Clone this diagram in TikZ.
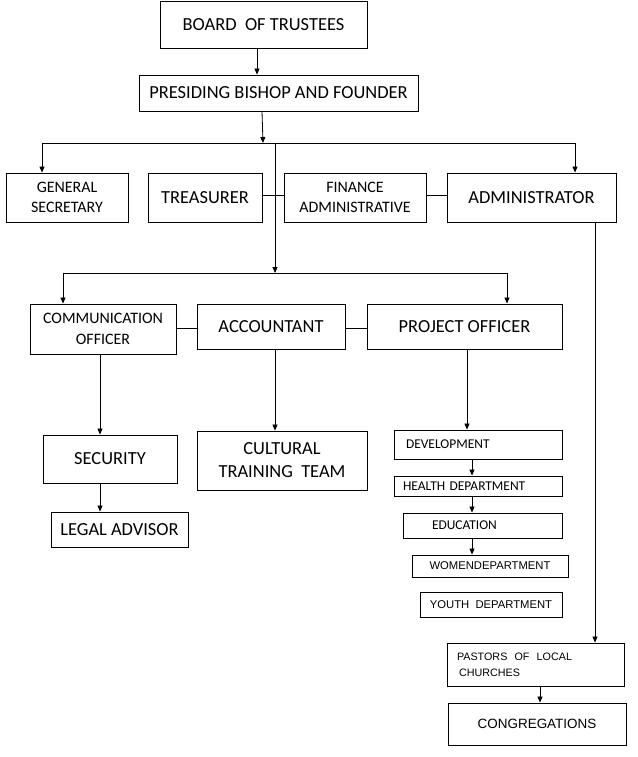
\documentclass[tikz,border=0pt]{standalone}
\usepackage{fontspec}
\setmainfont{Carlito}
\newfontfamily\arialfont{Liberation Sans}
\usetikzlibrary{arrows.meta}

\tikzset{
  box/.style={draw, line width=0.9bp, inner ysep=0pt, align=center},
  arr/.style={line width=0.8bp, -{Triangle[length=6bp,width=5bp]}},
  ln/.style={line width=0.8bp},
  big/.style={font=\fontsize{18.5}{23}\selectfont},
  mid/.style={font=\fontsize{16}{20.5}\selectfont},
  small/.style={font=\fontsize{13.5}{15}\selectfont},
  arsmall/.style={font=\arialfont\fontsize{11.3}{16}\selectfont}
}

\begin{document}
\begin{tikzpicture}[x=1bp,y=-1bp]
    \useasboundingbox (0,0) rectangle (638,757);
    % top
    \node[box, big, minimum width=207bp, minimum height=47bp] (board) at (263.5,24.5) {BOARD\ \ OF TRUSTEES};
    \node[box, big, minimum width=279bp, minimum height=36bp] (bishop) at (278.5,93) {PRESIDING BISHOP AND FOUNDER};
    % first row
    \node[box, mid, minimum width=122bp, minimum height=49bp] (gensec) at (67,197.5) {GENERAL\\SECRETARY};
    \node[box, big, minimum width=114bp, minimum height=49bp] (treas) at (205,197.5) {TREASURER};
    \node[box, mid, minimum width=142bp, minimum height=49bp] (finance) at (355,197.5) {FINANCE\\ADMINISTRATIVE};
    \node[box, big, minimum width=169bp, minimum height=49bp] (admin) at (531.5,197.5) {ADMINISTRATOR};
    % second row
    \node[box, mid, minimum width=146bp, minimum height=50bp] (comm) at (103,329) {COMMUNICATION\\OFFICER};
    \node[box, big, minimum width=148bp, minimum height=45bp] (acc) at (271,326.5) {ACCOUNTANT};
    \node[box, big, minimum width=195bp, minimum height=45bp] (proj) at (464.5,326.5) {PROJECT OFFICER};
    % below
    \node[box, big, minimum width=134bp, minimum height=48bp] (sec) at (110,459) {SECURITY};
    \node[box, big, minimum width=137bp, minimum height=35bp] (legal) at (119.5,529.5) {LEGAL ADVISOR};
    \node[box, big, minimum width=170bp, minimum height=59bp] (cult) at (282,460.5) {CULTURAL\\TRAINING\ \ TEAM};
    \node[box, small, align=left, inner xsep=12bp, text width=144bp, minimum height=29bp] (dev) at (478,444.5) {DEVELOPMENT};
    \node[box, small, align=left, inner xsep=9bp, text width=150bp, minimum height=20bp] (health) at (478,486) {HEALTH DEPARTMENT};
    \node[box, small, align=left, inner xsep=29bp, text width=101bp, minimum height=25bp] (edu) at (482.5,525.5) {EDUCATION};
    \node[box, arsmall, minimum width=156bp, minimum height=22bp] (women) at (490,566) {WOMENDEPARTMENT};
    \node[box, arsmall, minimum width=142bp, minimum height=25bp] (youth) at (491,604.5) {YOUTH\ \ DEPARTMENT};
    \node[box, arsmall, font=\arialfont\fontsize{10.8}{16}\selectfont, align=left, inner xsep=10bp, text width=157bp, minimum height=43bp] (pastors) at (535.5,664.5) {PASTORS\ \ OF\ \ LOCAL\\\hspace{2bp}CHURCHES};
    \node[box, font=\arialfont\fontsize{13.5}{16}\selectfont, minimum width=178bp, minimum height=42bp] (congr) at (537,724) {CONGREGATIONS};

    \coordinate (bl) at (42,143);
    \coordinate (br) at (575,143);
    \coordinate (bm) at (263,143);
    \coordinate (bc) at (275,143);
    \coordinate (cl) at (63,273);
    \coordinate (cr) at (507,273);
    \coordinate (cm) at (275,273);
    \coordinate (pline) at (472,0);
    \coordinate (aline) at (595,0);

    \draw[arr] ([xshift=-6.5bp]board.south) -- ([xshift=-6.5bp]board.south |- bishop.north);
    \draw[arr] ([xshift=-16.5bp]bishop.south) -- (bm);
    \draw[ln] (bl) -- (br);
    \draw[arr] (bl) -- (bl |- gensec.north);
    \draw[arr] (br) -- (br |- admin.north);
    \draw[arr] (bc) -- (cm);
    \draw[ln] ([yshift=2.5bp]treas.east) -- ([yshift=2.5bp]finance.west);
    \draw[ln] ([yshift=2.5bp]finance.east) -- ([yshift=2.5bp]admin.west);

    \draw[ln] (cl) -- (cr);
    \draw[arr] (cl) -- (cl |- comm.north);
    \draw[arr] (cr) -- (cr |- proj.north);
    \draw[ln] ([yshift=1bp]comm.east) -- ([yshift=1bp]comm.east -| acc.west);
    \draw[ln] ([yshift=1bp]acc.east |- comm.east) -- ([yshift=1bp]proj.west |- comm.east);

    \draw[arr] ([xshift=-3bp]comm.south) -- ([xshift=-3bp]comm.south |- sec.north);
    \draw[arr] ([xshift=-3bp]comm.south |- sec.south) -- ([xshift=-3bp]comm.south |- legal.north);
    \draw[arr] (acc.south -| cm) -- (cult.north -| cm);
    \draw[arr] ([xshift=2.5bp]proj.south) -- ([xshift=2.5bp]proj.south |- dev.north);
    \foreach \a/\b in {dev/health, health/edu, edu/women}
        \draw[arr] (\a.south -| pline) -- (\b.north -| pline);
    \draw[arr] (admin.south -| aline) -- (pastors.north -| aline);
    \draw[arr] ([xshift=4.5bp]pastors.south) -- ([xshift=4.5bp]pastors.south |- congr.north);
\end{tikzpicture}
\end{document}
